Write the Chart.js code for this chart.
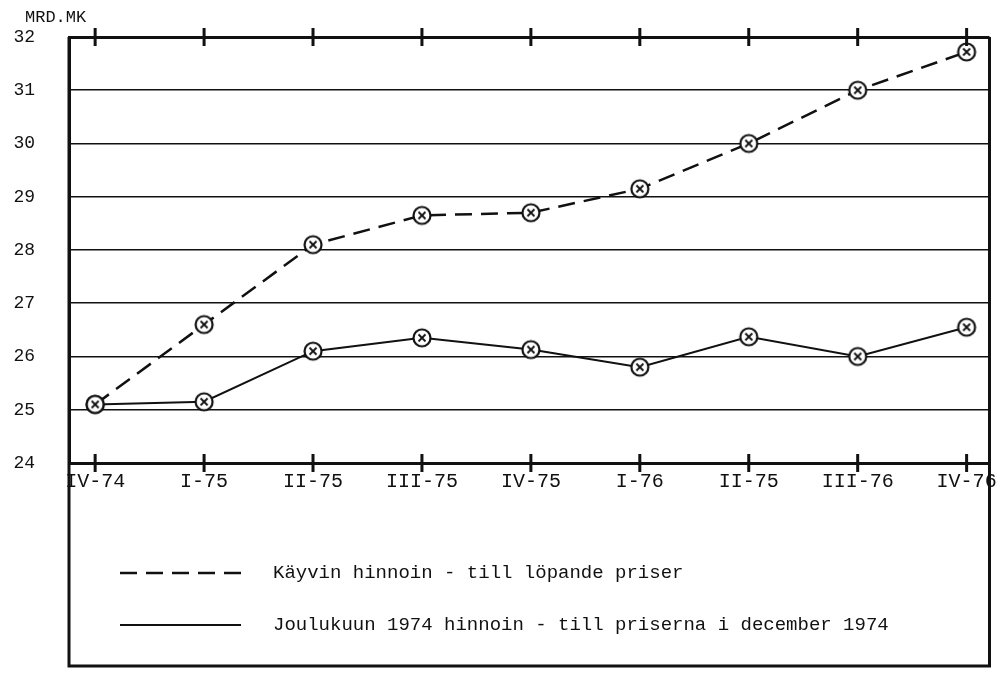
<!DOCTYPE html>
<html>
<head>
<meta charset="utf-8">
<script src="https://cdn.jsdelivr.net/npm/chart.js@4.4.1/dist/chart.umd.min.js"></script>
<style>
    body { margin: 0; background: #fff; }
</style>
</head>
<body>
<canvas id="chart1" width="996" height="674"></canvas>
<script>
const QUARTERS = ['IV-74', 'I-75', 'II-75', 'III-75', 'IV-75', 'I-76', 'II-75', 'III-76', 'IV-76'];
const KAYVIN = [25.1, 26.6, 28.1, 28.65, 28.7, 29.15, 30.0, 31.0, 31.72];
const JOULU = [25.1, 25.15, 26.1, 26.35, 26.13, 25.8, 26.37, 26.0, 26.55];
const Y_TICKS = [24, 25, 26, 27, 28, 29, 30, 31, 32];
const UNIT = 'MRD.MK';

const INK = '#111';
const FONT = 'Liberation Mono';

// circle with a cross inside, used as point marker
const marker = document.createElement('canvas');
marker.width = 22;
marker.height = 22;
(() => {
    const c = marker.getContext('2d');
    c.strokeStyle = INK;
    c.lineWidth = 2.2;
    c.beginPath();
    c.arc(11, 11, 8.5, 0, Math.PI * 2);
    c.fillStyle = '#fff';
    c.fill();
    c.stroke();
    c.lineWidth = 1.8;
    c.beginPath();
    c.moveTo(7.5, 7.5); c.lineTo(14.5, 14.5);
    c.moveTo(14.5, 7.5); c.lineTo(7.5, 14.5);
    c.stroke();
})();

const toPoints = arr => arr.map((v, i) => ({x: i, y: v}));

// box around plot + legend, tick marks crossing top and bottom axes, unit label
const framePlugin = {
    id: 'frame',
    afterDraw(chart) {
        const {ctx, chartArea: a, scales: {x}} = chart;
        const bottom = chart.height - 8;
        ctx.save();
        ctx.strokeStyle = INK;
        ctx.lineWidth = 3;
        ctx.beginPath();
        ctx.moveTo(a.left, a.top);
        ctx.lineTo(a.left, bottom);
        ctx.lineTo(a.right, bottom);
        ctx.lineTo(a.right, a.top);
        ctx.stroke();
        QUARTERS.forEach((q, i) => {
            const px = x.getPixelForValue(i);
            ctx.beginPath();
            ctx.moveTo(px, a.top - 9); ctx.lineTo(px, a.top + 9);
            ctx.moveTo(px, a.bottom - 9); ctx.lineTo(px, a.bottom + 9);
            ctx.stroke();
        });
        ctx.font = `17px "${FONT}"`;
        ctx.fillStyle = INK;
        ctx.textBaseline = 'middle';
        ctx.fillText(UNIT, 25, 17);
        ctx.restore();
    }
};

const legendPlugin = {
    id: 'typedLegend',
    afterDraw(chart) {
        const {ctx, chartArea: a} = chart;
        ctx.save();
        ctx.font = `19px "${FONT}"`;
        ctx.fillStyle = INK;
        ctx.textBaseline = 'middle';
        chart.data.datasets.forEach((ds, i) => {
            const y = a.bottom + 110 + i * 52;
            ctx.strokeStyle = INK;
            ctx.lineWidth = ds.borderWidth;
            ctx.setLineDash(ds.borderDash || []);
            ctx.beginPath();
            ctx.moveTo(a.left + 51, y);
            ctx.lineTo(a.left + 172, y);
            ctx.stroke();
            ctx.setLineDash([]);
            ctx.fillText(ds.label, a.left + 204, y);
        });
        ctx.restore();
    }
};

new Chart(
    document.getElementById('chart1'),
    {
        type: 'line',
        data: {
            datasets: [
                {
                    label: 'Käyvin hinnoin - till löpande priser',
                    data: toPoints(KAYVIN),
                    borderColor: INK,
                    borderWidth: 2.5,
                    borderDash: [17, 9],
                    pointStyle: marker,
                },
                {
                    label: 'Joulukuun 1974 hinnoin - till priserna i december 1974',
                    data: toPoints(JOULU),
                    borderColor: INK,
                    borderWidth: 2,
                    pointStyle: marker,
                },
            ]
        },
        options: {
            responsive: false,
            animation: false,
            layout: {padding: {left: 0, right: 0, top: 37, bottom: 0}},
            scales: {
                x: {
                    type: 'linear',
                    min: -0.24,
                    max: 8.21,
                    grid: {display: false, drawTicks: false},
                    border: {display: false},
                    afterBuildTicks: s => { s.ticks = QUARTERS.map((q, i) => ({value: i})); },
                    afterFit: s => {
                        s.height = 211;
                        s.paddingLeft = 0;
                        s.paddingRight = 0;
                    },
                    ticks: {
                        callback: v => QUARTERS[v],
                        autoSkip: false,
                        maxRotation: 0,
                        padding: 7,
                        color: INK,
                        font: {family: FONT, size: 20},
                    },
                },
                y: {
                    min: 24,
                    max: 32,
                    afterBuildTicks: s => { s.ticks = Y_TICKS.map(v => ({value: v})); },
                    afterFit: s => {
                        s.width = 69;
                        s.paddingTop = 0;
                        s.paddingBottom = 0;
                    },
                    grid: {
                        color: INK,
                        lineWidth: c => (c.tick && (c.tick.value === 24 || c.tick.value === 32)) ? 3 : 1.6,
                        drawTicks: false,
                    },
                    border: {color: INK, width: 3},
                    ticks: {
                        padding: 34,
                        color: INK,
                        font: {family: FONT, size: 18},
                    },
                },
            },
            plugins: {
                legend: {display: false},
                tooltip: {enabled: false},
            },
        },
        plugins: [framePlugin, legendPlugin],
    }
);
</script>
</body>
</html>
